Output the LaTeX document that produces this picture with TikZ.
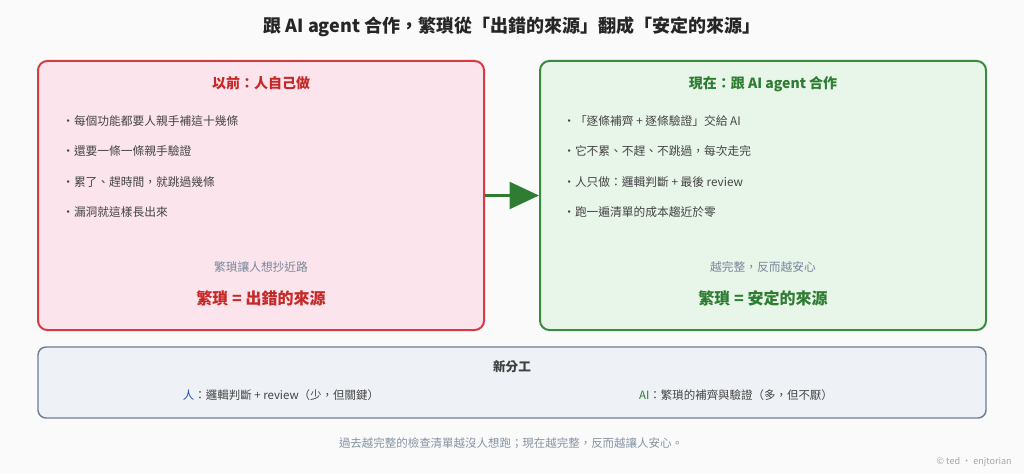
\documentclass[tikz,border=0pt]{standalone}
\usepackage{fontspec}
\setmainfont{Noto Sans CJK TC}
\usepackage{xcolor}
\usetikzlibrary{positioning, arrows.meta}

\definecolor{bgpage}{HTML}{FAFAFA}
\definecolor{redline}{HTML}{D63B42}
\definecolor{redfill}{HTML}{FCE4EC}
\definecolor{redtext}{HTML}{C62828}
\definecolor{greenline}{HTML}{3A8A3F}
\definecolor{greenfill}{HTML}{E8F5E9}
\definecolor{greentext}{HTML}{2E7D32}
\definecolor{slateline}{HTML}{6E7F8F}
\definecolor{slatefill}{HTML}{EEF2F6}
\definecolor{slatetext}{HTML}{78879A}
\definecolor{bodytext}{HTML}{444444}
\definecolor{bluetext}{HTML}{1E4FB0}

\begin{document}
\begin{tikzpicture}[
        x=0.75pt, y=-0.75pt,
        panel/.style={draw, rounded corners=7pt, line width=1.5pt, minimum width=334.5pt, minimum height=201.75pt, inner sep=0pt},
        head/.style={font=\fontsize{10.5}{12}\selectfont\bfseries},
        item/.style={anchor=west, inner sep=0pt, text=bodytext, font=\fontsize{8.8}{10}\selectfont},
        note/.style={inner sep=0pt, text=slatetext, font=\fontsize{8.8}{10}\selectfont},
        motto/.style={inner sep=0pt, font=\fontsize{12}{14}\selectfont\bfseries},
        flow/.style={-{Triangle[length=22pt, width=20pt]}, line width=2.2pt, draw=greentext}
    ]
    \useasboundingbox[fill=bgpage] (0,0) rectangle (1024,474);
    % Titel
    \node[font=\fontsize{13.5}{16}\selectfont\bfseries, text=black!85] (title) at (512,27) {跟 AI agent 合作，繁瑣從「出錯的來源」翻成「安定的來源」};
    % Links: vroeger
    \node[panel, draw=redline, fill=redfill] (before) at (261,195.5) {};
    \node[head, text=redtext] (beforehead) at (261,83) {以前：人自己做};
    \node[item] (b1) at (62,121) {・每個功能都要人親手補這十幾條};
    \node[item] (b2) at (62,151) {・還要一條一條親手驗證};
    \node[item] (b3) at (62,182) {・累了、趕時間，就跳過幾條};
    \node[item] (b4) at (62,212) {・漏洞就這樣長出來};
    \node[note] (beforenote) at (261,267) {繁瑣讓人想抄近路};
    \node[motto, text=redtext] (beforemotto) at (261,298) {繁瑣 = 出錯的來源};
    % Rechts: nu
    \node[panel, draw=greenline, fill=greenfill] (after) at (763,195.5) {};
    \node[head, text=greentext] (afterhead) at (763,84) {現在：跟 AI agent 合作};
    \node[item] (a1) at (563,121) {・「逐條補齊 + 逐條驗證」交給 AI};
    \node[item] (a2) at (563,151) {・它不累、不趕、不跳過，每次走完};
    \node[item] (a3) at (563,182) {・人只做：邏輯判斷 + 最後 review};
    \node[item] (a4) at (563,212) {・跑一遍清單的成本趨近於零};
    \node[note] (afternote) at (763,267) {越完整，反而越安心};
    \node[motto, text=greentext] (aftermotto) at (763,298) {繁瑣 = 安定的來源};

    \draw[flow] (before.east) -- (after.west);

    % Onder: nieuwe taakverdeling
    \node[draw=slateline, fill=slatefill, rounded corners=6pt, line width=1.1pt, minimum width=711pt, minimum height=53.25pt, inner sep=0pt] (split) at (512,382.5) {};
    \node[font=\fontsize{9.5}{11}\selectfont\bfseries, text=black!75] (splithead) at (512,367) {新分工};
    \node[inner sep=0pt, text=bodytext, font=\fontsize{8.6}{10}\selectfont] (human) at (281,395) {\textcolor{bluetext}{人}：邏輯判斷 + review（少，但關鍵）};
    \node[inner sep=0pt, text=bodytext, font=\fontsize{8.6}{10}\selectfont] (agent) at (736,395) {\textcolor{greentext}{AI}：繁瑣的補齊與驗證（多，但不厭）};

    \node[note, font=\fontsize{8.6}{10}\selectfont, text=slatetext!90] (footer) at (511,443) {過去越完整的檢查清單越沒人想跑；現在越完整，反而越讓人安心。};
    \node[anchor=east, inner sep=0pt, text=black!35, font=\fontsize{6.8}{8}\selectfont] (credit) at (1012,462) {© ted · enjtorian};
\end{tikzpicture}
\end{document}
